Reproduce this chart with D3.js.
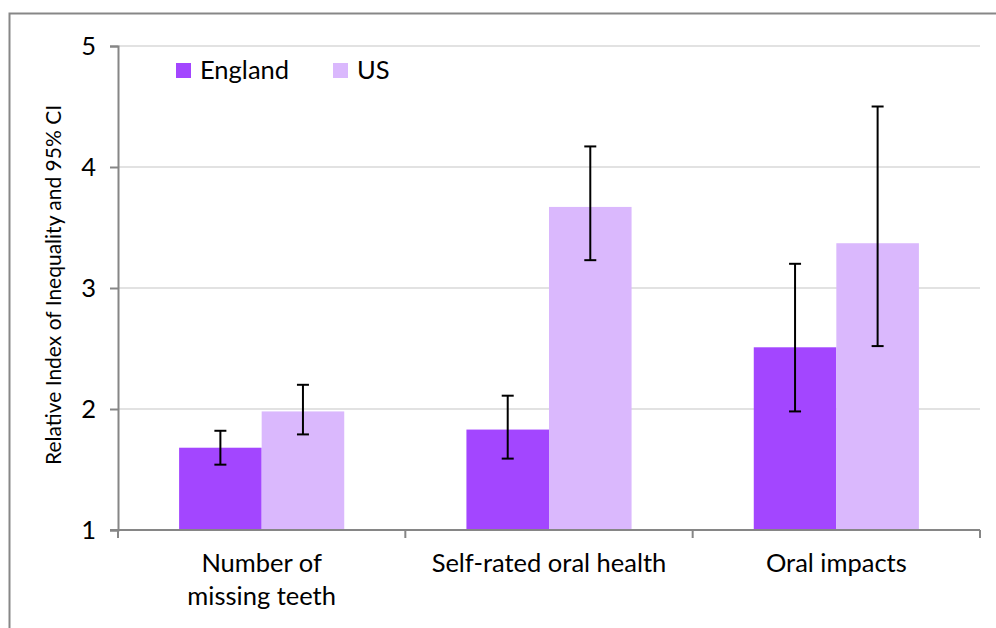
<!DOCTYPE html>
<html>
<head>
<meta charset="utf-8">
<script src="https://d3js.org/d3.v7.min.js"></script>
<style>
  html, body { margin: 0; padding: 0; background: #fff; }
  svg { display: block; }
</style>
</head>
<body>
<svg id="chart" width="996" height="628"></svg>
<script>
// Categories, series and values (RII with 95% confidence limits)
const categories = ["Number of missing teeth", "Self-rated oral health", "Oral impacts"];
const categoryLines = [["Number of", "missing teeth"], ["Self-rated oral health"], ["Oral impacts"]];
const seriesNames = ["England", "US"];
const englandRII = [1.68, 1.83, 2.51];
const englandLow = [1.54, 1.59, 1.98];
const englandHigh = [1.82, 2.11, 3.20];
const usRII = [1.98, 3.67, 3.37];
const usLow = [1.79, 3.23, 2.52];
const usHigh = [2.20, 4.17, 4.50];
const yTicks = [1, 2, 3, 4, 5];
const yTitle = "Relative Index of Inequality and 95% CI";

const colors = { England: "#A346FF", US: "#DAB8FD" };

const rows = [];
categories.forEach((c, i) => {
  rows.push({ cat: c, series: "England", v: englandRII[i], lo: englandLow[i], hi: englandHigh[i] });
  rows.push({ cat: c, series: "US", v: usRII[i], lo: usLow[i], hi: usHigh[i] });
});

const svg = d3.select("#chart");
const font = "Lato, 'Open Sans', sans-serif";
const labelSize = 25.5;

// Frame around the figure
svg.append("path")
  .attr("d", "M9.5,628 V13.5 H996")
  .attr("fill", "none").attr("stroke", "#878787").attr("stroke-width", 2);

const x0 = d3.scaleBand().domain(categories).range([118, 980]).paddingInner(0).paddingOuter(0);
const x1 = d3.scaleBand().domain(seriesNames).range([0, x0.bandwidth()]).paddingInner(0).paddingOuter(0.74);
const y = d3.scaleLinear().domain([1, 5]).range([530, 46]);

// Gridlines
svg.append("g").selectAll("line").data(yTicks.filter(t => t > 1)).join("line")
  .attr("x1", 118).attr("x2", 980)
  .attr("y1", d => y(d)).attr("y2", d => y(d))
  .attr("stroke", "#D9D9D9").attr("stroke-width", 1.5);

// Bars
svg.append("g").selectAll("rect").data(rows).join("rect")
  .attr("x", d => x0(d.cat) + x1(d.series))
  .attr("width", x1.bandwidth())
  .attr("y", d => y(d.v))
  .attr("height", d => y(1) - y(d.v))
  .attr("fill", d => colors[d.series]);

// Error bars
const eb = svg.append("g").attr("stroke", "#000").attr("stroke-width", 2);
rows.forEach(d => {
  const cx = x0(d.cat) + x1(d.series) + x1.bandwidth() / 2;
  eb.append("line").attr("x1", cx).attr("x2", cx).attr("y1", y(d.lo)).attr("y2", y(d.hi));
  eb.append("line").attr("x1", cx - 6).attr("x2", cx + 6).attr("y1", y(d.lo)).attr("y2", y(d.lo));
  eb.append("line").attr("x1", cx - 6).attr("x2", cx + 6).attr("y1", y(d.hi)).attr("y2", y(d.hi));
});

// Y axis
const yAxis = svg.append("g").attr("transform", "translate(118,0)")
  .call(d3.axisLeft(y).tickValues(yTicks).tickSize(8).tickPadding(14).tickFormat(d3.format("d")));
yAxis.select(".domain").attr("stroke", "#868686").attr("stroke-width", 2);
yAxis.selectAll(".tick line").attr("stroke", "#868686").attr("stroke-width", 2);
yAxis.selectAll(".tick text").attr("font-family", font).attr("font-size", labelSize).attr("fill", "#000");

// X axis
const xTickPos = [118, ...categories.map(c => x0(c) + x0.bandwidth())];
const xAxisG = svg.append("g");
xAxisG.append("line").attr("x1", 110).attr("x2", 980).attr("y1", y(1)).attr("y2", y(1))
  .attr("stroke", "#868686").attr("stroke-width", 2);
xAxisG.selectAll("line.t").data(xTickPos).join("line").attr("class", "t")
  .attr("x1", d => d).attr("x2", d => d).attr("y1", y(1)).attr("y2", y(1) + 8)
  .attr("stroke", "#868686").attr("stroke-width", 2);

const catLabels = svg.append("g").attr("font-family", font).attr("font-size", labelSize)
  .attr("text-anchor", "middle").attr("fill", "#000");
categories.forEach((c, i) => {
  const cx = x0(c) + x0.bandwidth() / 2;
  const t = catLabels.append("text").attr("x", cx).attr("y", 572);
  categoryLines[i].forEach((line, j) => {
    t.append("tspan").attr("x", cx).attr("dy", j === 0 ? 0 : 33).text(line);
  });
});

// Y axis title
svg.append("text")
  .attr("transform", "translate(61,285) rotate(-90)")
  .attr("text-anchor", "middle")
  .attr("font-family", font).attr("font-size", 21).attr("fill", "#000")
  .text(yTitle);

// Legend
const legend = svg.append("g").attr("font-family", font).attr("font-size", labelSize);
const legendX = [176, 333];
seriesNames.forEach((s, i) => {
  legend.append("rect").attr("x", legendX[i]).attr("y", 63).attr("width", 15).attr("height", 15).attr("fill", colors[s]);
  legend.append("text").attr("x", legendX[i] + 24).attr("y", 79).attr("fill", "#000").text(s);
});
</script>
</body>
</html>
